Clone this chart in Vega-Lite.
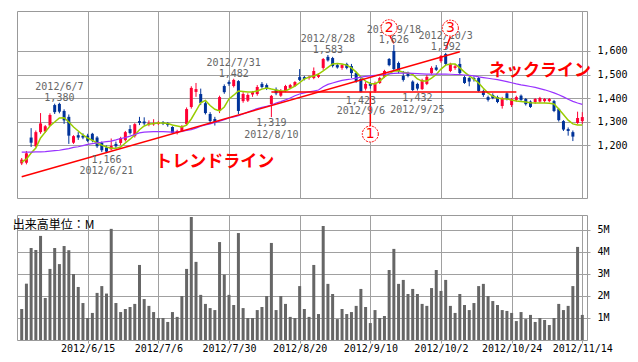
{
"$schema": "https://vega.github.io/schema/vega-lite/v6.json",
"background": "white",
"padding": {"left": 12, "top": 10, "right": 0, "bottom": 0},
"spacing": 15,
"config": {"view": {"stroke": "#999999", "strokeWidth": 1}, "axis": {"gridColor": "#a0a0a0", "gridOpacity": 1, "labelFont": "DejaVu Sans Mono", "labelFontSize": 10, "labelColor": "#000000", "tickColor": "#a0a0a0", "domain": false, "labelOverlap": false}},
"datasets": {
"k": [
{"d":"2012-05-28","o":1122,"h":1145,"l":1115,"c":1138,"v":1.41,"g":1128,"p":1170},
{"d":"2012-05-29","o":1125,"h":1175,"l":1118,"c":1165,"v":2.56,"g":1140,"p":1170},
{"d":"2012-05-30","o":1232,"h":1272,"l":1192,"c":1210,"v":4.18,"g":1166,"p":1170},
{"d":"2012-05-31","o":1195,"h":1262,"l":1190,"c":1255,"v":4.09,"g":1187,"p":1171},
{"d":"2012-06-01","o":1255,"h":1336,"l":1248,"c":1292,"v":4.73,"g":1230,"p":1171},
{"d":"2012-06-04","o":1258,"h":1285,"l":1252,"c":1280,"v":1.91,"g":1255,"p":1172},
{"d":"2012-06-05","o":1283,"h":1335,"l":1280,"c":1328,"v":3.23,"g":1281,"p":1174},
{"d":"2012-06-06","o":1370,"h":1376,"l":1332,"c":1340,"v":4.18,"g":1298,"p":1176},
{"d":"2012-06-07","o":1375,"h":1380,"l":1335,"c":1342,"v":3.45,"g":1315,"p":1178},
{"d":"2012-06-08","o":1345,"h":1352,"l":1290,"c":1305,"v":4.27,"g":1316,"p":1182},
{"d":"2012-06-11","o":1320,"h":1330,"l":1205,"c":1240,"v":4.08,"g":1298,"p":1185},
{"d":"2012-06-12","o":1210,"h":1242,"l":1205,"c":1238,"v":3.00,"g":1277,"p":1190},
{"d":"2012-06-13","o":1242,"h":1255,"l":1222,"c":1232,"v":2.41,"g":1260,"p":1193},
{"d":"2012-06-14","o":1240,"h":1250,"l":1225,"c":1232,"v":1.68,"g":1243,"p":1198},
{"d":"2012-06-15","o":1240,"h":1248,"l":1212,"c":1218,"v":1.00,"g":1230,"p":1203},
{"d":"2012-06-18","o":1248,"h":1252,"l":1212,"c":1220,"v":1.23,"g":1220,"p":1206},
{"d":"2012-06-19","o":1232,"h":1238,"l":1188,"c":1195,"v":2.14,"g":1209,"p":1209},
{"d":"2012-06-20","o":1210,"h":1215,"l":1170,"c":1178,"v":2.45,"g":1200,"p":1212},
{"d":"2012-06-21","o":1190,"h":1198,"l":1166,"c":1172,"v":2.11,"g":1192,"p":1215},
{"d":"2012-06-22","o":1182,"h":1228,"l":1178,"c":1196,"v":5.05,"g":1187,"p":1217},
{"d":"2012-06-25","o":1205,"h":1215,"l":1186,"c":1195,"v":1.68,"g":1186,"p":1222},
{"d":"2012-06-26","o":1209,"h":1235,"l":1200,"c":1230,"v":1.27,"g":1192,"p":1228},
{"d":"2012-06-27","o":1221,"h":1260,"l":1215,"c":1255,"v":1.41,"g":1209,"p":1232},
{"d":"2012-06-28","o":1268,"h":1285,"l":1245,"c":1251,"v":1.50,"g":1225,"p":1238},
{"d":"2012-06-29","o":1238,"h":1293,"l":1232,"c":1289,"v":1.64,"g":1243,"p":1245},
{"d":"2012-07-02","o":1302,"h":1320,"l":1285,"c":1294,"v":3.41,"g":1265,"p":1252},
{"d":"2012-07-03","o":1300,"h":1318,"l":1285,"c":1292,"v":1.86,"g":1281,"p":1255},
{"d":"2012-07-04","o":1289,"h":1305,"l":1280,"c":1294,"v":1.55,"g":1289,"p":1256},
{"d":"2012-07-05","o":1288,"h":1310,"l":1282,"c":1293,"v":1.27,"g":1292,"p":1257},
{"d":"2012-07-06","o":1290,"h":1302,"l":1285,"c":1296,"v":1.00,"g":1294,"p":1257},
{"d":"2012-07-09","o":1298,"h":1302,"l":1285,"c":1292,"v":1.00,"g":1294,"p":1257},
{"d":"2012-07-10","o":1294,"h":1298,"l":1278,"c":1285,"v":0.82,"g":1292,"p":1256},
{"d":"2012-07-11","o":1277,"h":1280,"l":1248,"c":1251,"v":1.27,"g":1285,"p":1255},
{"d":"2012-07-12","o":1251,"h":1265,"l":1245,"c":1260,"v":1.05,"g":1281,"p":1256},
{"d":"2012-07-13","o":1260,"h":1285,"l":1255,"c":1281,"v":2.00,"g":1277,"p":1258},
{"d":"2012-07-17","o":1289,"h":1360,"l":1285,"c":1353,"v":3.23,"g":1285,"p":1262},
{"d":"2012-07-18","o":1362,"h":1450,"l":1355,"c":1443,"v":5.59,"g":1311,"p":1266},
{"d":"2012-07-19","o":1426,"h":1464,"l":1405,"c":1438,"v":3.55,"g":1345,"p":1272},
{"d":"2012-07-20","o":1417,"h":1440,"l":1370,"c":1379,"v":2.05,"g":1380,"p":1280},
{"d":"2012-07-23","o":1378,"h":1385,"l":1330,"c":1336,"v":1.64,"g":1390,"p":1286},
{"d":"2012-07-24","o":1332,"h":1340,"l":1290,"c":1302,"v":1.45,"g":1368,"p":1290},
{"d":"2012-07-25","o":1311,"h":1320,"l":1283,"c":1294,"v":1.36,"g":1352,"p":1296},
{"d":"2012-07-26","o":1345,"h":1410,"l":1336,"c":1404,"v":4.45,"g":1345,"p":1302},
{"d":"2012-07-27","o":1451,"h":1458,"l":1418,"c":1425,"v":2.97,"g":1362,"p":1308},
{"d":"2012-07-30","o":1468,"h":1475,"l":1452,"c":1460,"v":2.05,"g":1396,"p":1315},
{"d":"2012-07-31","o":1451,"h":1482,"l":1445,"c":1477,"v":1.59,"g":1412,"p":1320},
{"d":"2012-08-01","o":1472,"h":1476,"l":1332,"c":1345,"v":4.86,"g":1430,"p":1325},
{"d":"2012-08-02","o":1387,"h":1425,"l":1380,"c":1417,"v":1.45,"g":1428,"p":1332},
{"d":"2012-08-03","o":1389,"h":1420,"l":1383,"c":1413,"v":1.00,"g":1426,"p":1340},
{"d":"2012-08-06","o":1415,"h":1430,"l":1405,"c":1425,"v":1.00,"g":1426,"p":1348},
{"d":"2012-08-07","o":1417,"h":1455,"l":1410,"c":1447,"v":1.36,"g":1430,"p":1355},
{"d":"2012-08-08","o":1460,"h":1468,"l":1440,"c":1447,"v":1.50,"g":1438,"p":1360},
{"d":"2012-08-09","o":1455,"h":1462,"l":1434,"c":1440,"v":2.00,"g":1443,"p":1365},
{"d":"2012-08-10","o":1374,"h":1413,"l":1319,"c":1409,"v":4.41,"g":1438,"p":1370},
{"d":"2012-08-13","o":1436,"h":1445,"l":1412,"c":1420,"v":1.36,"g":1434,"p":1379},
{"d":"2012-08-14","o":1410,"h":1438,"l":1405,"c":1430,"v":2.00,"g":1430,"p":1385},
{"d":"2012-08-15","o":1430,"h":1456,"l":1425,"c":1451,"v":1.64,"g":1430,"p":1392},
{"d":"2012-08-16","o":1443,"h":1460,"l":1438,"c":1455,"v":1.05,"g":1440,"p":1400},
{"d":"2012-08-17","o":1451,"h":1472,"l":1447,"c":1468,"v":1.00,"g":1451,"p":1410},
{"d":"2012-08-20","o":1489,"h":1523,"l":1472,"c":1477,"v":2.45,"g":1465,"p":1417},
{"d":"2012-08-21","o":1489,"h":1494,"l":1475,"c":1481,"v":1.41,"g":1481,"p":1422},
{"d":"2012-08-22","o":1485,"h":1495,"l":1478,"c":1490,"v":1.05,"g":1489,"p":1426},
{"d":"2012-08-23","o":1485,"h":1530,"l":1480,"c":1515,"v":3.41,"g":1494,"p":1430},
{"d":"2012-08-24","o":1490,"h":1505,"l":1485,"c":1498,"v":1.18,"g":1502,"p":1434},
{"d":"2012-08-27","o":1528,"h":1570,"l":1520,"c":1566,"v":5.18,"g":1515,"p":1448},
{"d":"2012-08-28","o":1575,"h":1583,"l":1555,"c":1560,"v":2.55,"g":1530,"p":1458},
{"d":"2012-08-29","o":1570,"h":1575,"l":1530,"c":1536,"v":2.09,"g":1545,"p":1464},
{"d":"2012-08-30","o":1540,"h":1545,"l":1525,"c":1530,"v":0.95,"g":1547,"p":1470},
{"d":"2012-08-31","o":1528,"h":1545,"l":1520,"c":1540,"v":1.41,"g":1545,"p":1475},
{"d":"2012-09-03","o":1545,"h":1550,"l":1522,"c":1528,"v":1.18,"g":1540,"p":1478},
{"d":"2012-09-04","o":1536,"h":1545,"l":1485,"c":1506,"v":1.27,"g":1528,"p":1481},
{"d":"2012-09-05","o":1506,"h":1512,"l":1465,"c":1472,"v":1.55,"g":1510,"p":1485},
{"d":"2012-09-06","o":1481,"h":1485,"l":1423,"c":1426,"v":2.32,"g":1489,"p":1489},
{"d":"2012-09-07","o":1440,"h":1468,"l":1432,"c":1460,"v":1.50,"g":1472,"p":1492},
{"d":"2012-09-10","o":1460,"h":1468,"l":1440,"c":1452,"v":0.77,"g":1462,"p":1494},
{"d":"2012-09-11","o":1430,"h":1470,"l":1423,"c":1464,"v":1.36,"g":1460,"p":1496},
{"d":"2012-09-12","o":1464,"h":1490,"l":1460,"c":1485,"v":1.00,"g":1472,"p":1498},
{"d":"2012-09-13","o":1490,"h":1520,"l":1485,"c":1515,"v":1.09,"g":1490,"p":1500},
{"d":"2012-09-14","o":1566,"h":1570,"l":1535,"c":1540,"v":3.18,"g":1503,"p":1503},
{"d":"2012-09-18","o":1600,"h":1626,"l":1518,"c":1523,"v":4.14,"g":1515,"p":1505},
{"d":"2012-09-19","o":1549,"h":1555,"l":1505,"c":1515,"v":2.55,"g":1516,"p":1506},
{"d":"2012-09-20","o":1494,"h":1515,"l":1470,"c":1477,"v":2.73,"g":1510,"p":1506},
{"d":"2012-09-21","o":1506,"h":1512,"l":1488,"c":1494,"v":2.09,"g":1506,"p":1506},
{"d":"2012-09-24","o":1470,"h":1475,"l":1430,"c":1434,"v":2.32,"g":1500,"p":1505},
{"d":"2012-09-25","o":1460,"h":1465,"l":1432,"c":1440,"v":2.09,"g":1481,"p":1504},
{"d":"2012-09-26","o":1438,"h":1482,"l":1434,"c":1477,"v":1.64,"g":1472,"p":1503},
{"d":"2012-09-27","o":1460,"h":1498,"l":1455,"c":1490,"v":1.55,"g":1472,"p":1502},
{"d":"2012-09-28","o":1506,"h":1535,"l":1500,"c":1528,"v":2.36,"g":1485,"p":1502},
{"d":"2012-10-01","o":1530,"h":1540,"l":1515,"c":1520,"v":3.18,"g":1500,"p":1502},
{"d":"2012-10-02","o":1557,"h":1583,"l":1550,"c":1579,"v":2.23,"g":1523,"p":1502},
{"d":"2012-10-03","o":1587,"h":1592,"l":1540,"c":1545,"v":2.73,"g":1540,"p":1502},
{"d":"2012-10-04","o":1515,"h":1550,"l":1510,"c":1545,"v":1.55,"g":1545,"p":1501},
{"d":"2012-10-05","o":1528,"h":1545,"l":1520,"c":1535,"v":1.23,"g":1545,"p":1500},
{"d":"2012-10-09","o":1545,"h":1570,"l":1500,"c":1506,"v":2.09,"g":1528,"p":1500},
{"d":"2012-10-10","o":1489,"h":1495,"l":1460,"c":1464,"v":1.59,"g":1510,"p":1498},
{"d":"2012-10-11","o":1485,"h":1490,"l":1450,"c":1470,"v":1.36,"g":1494,"p":1496},
{"d":"2012-10-12","o":1485,"h":1492,"l":1470,"c":1480,"v":1.68,"g":1480,"p":1494},
{"d":"2012-10-15","o":1485,"h":1490,"l":1425,"c":1430,"v":2.45,"g":1464,"p":1490},
{"d":"2012-10-16","o":1430,"h":1436,"l":1405,"c":1413,"v":2.55,"g":1442,"p":1487},
{"d":"2012-10-17","o":1404,"h":1410,"l":1385,"c":1392,"v":2.00,"g":1421,"p":1484},
{"d":"2012-10-18","o":1413,"h":1420,"l":1395,"c":1400,"v":1.77,"g":1408,"p":1481},
{"d":"2012-10-19","o":1404,"h":1410,"l":1378,"c":1383,"v":1.59,"g":1400,"p":1478},
{"d":"2012-10-22","o":1366,"h":1405,"l":1355,"c":1400,"v":1.36,"g":1397,"p":1474},
{"d":"2012-10-23","o":1420,"h":1425,"l":1390,"c":1396,"v":1.32,"g":1396,"p":1470},
{"d":"2012-10-24","o":1370,"h":1400,"l":1362,"c":1396,"v":1.23,"g":1392,"p":1465},
{"d":"2012-10-25","o":1392,"h":1410,"l":1385,"c":1404,"v":0.86,"g":1387,"p":1460},
{"d":"2012-10-26","o":1410,"h":1415,"l":1388,"c":1392,"v":1.27,"g":1385,"p":1456},
{"d":"2012-10-29","o":1396,"h":1400,"l":1368,"c":1374,"v":0.95,"g":1383,"p":1453},
{"d":"2012-10-30","o":1385,"h":1390,"l":1358,"c":1362,"v":1.14,"g":1380,"p":1449},
{"d":"2012-10-31","o":1383,"h":1400,"l":1375,"c":1396,"v":0.82,"g":1379,"p":1445},
{"d":"2012-11-01","o":1385,"h":1405,"l":1380,"c":1400,"v":1.00,"g":1379,"p":1440},
{"d":"2012-11-02","o":1387,"h":1400,"l":1380,"c":1396,"v":0.91,"g":1379,"p":1435},
{"d":"2012-11-05","o":1387,"h":1400,"l":1382,"c":1396,"v":0.68,"g":1378,"p":1429},
{"d":"2012-11-06","o":1387,"h":1392,"l":1340,"c":1345,"v":1.00,"g":1375,"p":1422},
{"d":"2012-11-07","o":1353,"h":1358,"l":1300,"c":1306,"v":1.64,"g":1353,"p":1414},
{"d":"2012-11-08","o":1302,"h":1306,"l":1260,"c":1266,"v":1.36,"g":1330,"p":1405},
{"d":"2012-11-09","o":1268,"h":1275,"l":1240,"c":1260,"v":1.55,"g":1306,"p":1395},
{"d":"2012-11-12","o":1255,"h":1262,"l":1217,"c":1236,"v":2.45,"g":1290,"p":1386},
{"d":"2012-11-13","o":1294,"h":1342,"l":1290,"c":1315,"v":4.23,"g":1285,"p":1379},
{"d":"2012-11-14","o":1302,"h":1340,"l":1290,"c":1319,"v":1.14,"g":1285,"p":1373}
],
"lab": [
{"d":"2012-06-07","p":1449,"t":"2012/6/7"},{"d":"2012-06-07","p":1402,"t":"1,380"},
{"d":"2012-06-21","p":1138,"t":"1,166"},{"d":"2012-06-21","p":1089,"t":"2012/6/21"},
{"d":"2012-07-31","p":1551,"t":"2012/7/31"},{"d":"2012-07-31","p":1502,"t":"1,482"},
{"d":"2012-08-10","p":1292,"t":"1,319"},{"d":"2012-08-10","p":1243,"t":"2012/8/10"},
{"d":"2012-08-28","p":1653,"t":"2012/8/28"},{"d":"2012-08-28","p":1604,"t":"1,583"},
{"d":"2012-09-06","p":1387,"t":"1,423"},{"d":"2012-09-06","p":1345,"t":"2012/9/6"},
{"d":"2012-09-18","p":1691,"t":"2012/9/18"},{"d":"2012-09-18","p":1645,"t":"1,626"},
{"d":"2012-09-25","p":1400,"t":"1,432"},{"d":"2012-09-25","p":1349,"t":"2012/9/25"},
{"d":"2012-10-03","p":1662,"t":"2012/10/3"},{"d":"2012-10-03","p":1619,"t":"1,592"}
],
"red": [
{"d":"2012-07-25","p":1128,"t":"トレンドライン"},
{"d":"2012-11-01","p":1515,"t":"ネックライン"}
],
"lines": [
{"k":"trend","n":1,"d":"2012-05-28","p":1065},{"k":"trend","n":2,"d":"2012-10-09","p":1597},
{"k":"neck","n":1,"d":"2012-08-10","p":1426},{"k":"neck","n":2,"d":"2012-10-25","p":1426},
{"k":"v1","n":1,"d":"2012-09-10","p":1426},{"k":"v1","n":2,"d":"2012-09-10","p":1281},
{"k":"c2","n":1,"d":"2012-09-14","p":1672},{"k":"c2","n":2,"d":"2012-09-18","p":1632},
{"k":"c3","n":1,"d":"2012-10-03","p":1609},{"k":"c3","n":2,"d":"2012-10-04","p":1660}
],
"circ": [
{"d":"2012-09-10","p":1247,"t":"1"},
{"d":"2012-09-14","p":1699,"t":"2"},
{"d":"2012-10-04","p":1697,"t":"3"}
]
},
"vconcat": [
{
"width": 570, "height": 187,
"layer": [
{"data": {"name": "k"}, "mark": {"type": "rule", "strokeWidth": 1},
 "encoding": {
  "x": {"field": "d", "type": "nominal", "scale": {"type": "point", "padding": 2.84},
        "axis": {"values": ["2012-06-15","2012-07-06","2012-07-30","2012-08-20","2012-09-10","2012-10-02","2012-10-24","2012-11-14"], "labels": false, "ticks": false, "grid": true, "title": null}},
  "y": {"field": "l", "type": "quantitative", "scale": {"domain": [975, 1770], "nice": false, "zero": false},
        "axis": {"orient": "right", "values": [1200,1300,1400,1500,1600], "labelExpr": "format(datum.value, ',')", "grid": true, "tickSize": 3, "labelPadding": 7, "title": null}},
  "y2": {"field": "h"},
  "color": {"condition": {"test": "datum.c >= datum.o", "value": "#ff0033"}, "value": "#003399"}
 }},
{"data": {"name": "k"}, "mark": {"type": "bar", "width": 3},
 "encoding": {
  "x": {"field": "d", "type": "nominal", "title": null},
  "y": {"field": "o", "type": "quantitative", "title": null},
  "y2": {"field": "c"},
  "color": {"condition": {"test": "datum.c >= datum.o", "value": "#ff0033"}, "value": "#003399"}
 }},
{"data": {"name": "k"}, "mark": {"type": "line", "color": "#99cc00", "strokeWidth": 1.5},
 "encoding": {"x": {"field": "d", "type": "nominal", "title": null}, "y": {"field": "g", "type": "quantitative", "title": null}}},
{"data": {"name": "k"}, "mark": {"type": "line", "color": "#9933ff", "strokeWidth": 1.2},
 "encoding": {"x": {"field": "d", "type": "nominal", "title": null}, "y": {"field": "p", "type": "quantitative", "title": null}}},
{"data": {"name": "lines"}, "mark": {"type": "line", "color": "#ff0000", "strokeWidth": 1.5},
 "encoding": {"x": {"field": "d", "type": "nominal", "title": null}, "y": {"field": "p", "type": "quantitative", "title": null}, "detail": {"field": "k"}, "order": {"field": "n"}}},
{"data": {"name": "lab"}, "mark": {"type": "text", "font": "DejaVu Sans Mono", "fontSize": 10, "color": "#666666", "align": "center", "baseline": "middle"},
 "encoding": {"x": {"field": "d", "type": "nominal", "title": null}, "y": {"field": "p", "type": "quantitative", "title": null}, "text": {"field": "t"}}},
{"data": {"name": "red"}, "mark": {"type": "text", "font": "Noto Sans CJK JP", "fontSize": 17, "fontWeight": "bold", "color": "#ff0000", "align": "center", "baseline": "middle"},
 "encoding": {"x": {"field": "d", "type": "nominal", "title": null}, "y": {"field": "p", "type": "quantitative", "title": null}, "text": {"field": "t"}}},
{"data": {"name": "circ"}, "mark": {"type": "point", "shape": "circle", "size": 256, "filled": true, "fill": "#ffffff", "fillOpacity": 1, "stroke": "#ff0000", "strokeWidth": 1, "strokeDash": [2, 1], "opacity": 1},
 "encoding": {"x": {"field": "d", "type": "nominal", "title": null}, "y": {"field": "p", "type": "quantitative", "title": null}}},
{"data": {"name": "circ"}, "mark": {"type": "text", "font": "DejaVu Sans", "fontSize": 14, "color": "#ff0000", "align": "center", "baseline": "middle"},
 "encoding": {"x": {"field": "d", "type": "nominal", "title": null}, "y": {"field": "p", "type": "quantitative", "title": null}, "text": {"field": "t"}}}
]
},
{
"width": 570, "height": 125,
"layer": [
{"data": {"name": "k"}, "mark": {"type": "bar", "width": 3, "color": "#666666"},
 "encoding": {
  "x": {"field": "d", "type": "nominal", "scale": {"type": "point", "padding": 2.84},
        "axis": {"values": ["2012-06-15","2012-07-06","2012-07-30","2012-08-20","2012-09-10","2012-10-02","2012-10-24","2012-11-14"], "labelExpr": "utcFormat(toDate(datum.value), '%Y/%-m/%-d')", "labelAngle": 0, "grid": true, "tickSize": 3, "labelPadding": 0, "title": null}},
  "y": {"field": "v", "type": "quantitative", "scale": {"domain": [0, 5.68], "nice": false},
        "axis": {"orient": "right", "values": [1,2,3,4,5], "labelExpr": "datum.value + 'M'", "grid": true, "tickSize": 3, "labelPadding": 7, "title": null}}
 }},
{"data": {"values": [{"d": "2012-05-28", "v": 5.23, "t": "出来高単位：M"}]}, "mark": {"type": "text", "font": "Noto Sans CJK JP", "fontSize": 12, "color": "#000000", "align": "left", "baseline": "middle", "dx": -9},
 "encoding": {
  "x": {"field": "d", "type": "nominal",
        "axis": {"values": ["2012-06-15","2012-07-06","2012-07-30","2012-08-20","2012-09-10","2012-10-02","2012-10-24","2012-11-14"], "labelExpr": "utcFormat(toDate(datum.value), '%Y/%-m/%-d')", "labelAngle": 0, "grid": true, "tickSize": 3, "labelPadding": 0, "title": null}},
  "y": {"field": "v", "type": "quantitative",
        "axis": {"orient": "right", "values": [1,2,3,4,5], "labelExpr": "datum.value + 'M'", "grid": true, "tickSize": 3, "labelPadding": 7, "title": null}},
  "text": {"field": "t"}}}
]
}
]
}
